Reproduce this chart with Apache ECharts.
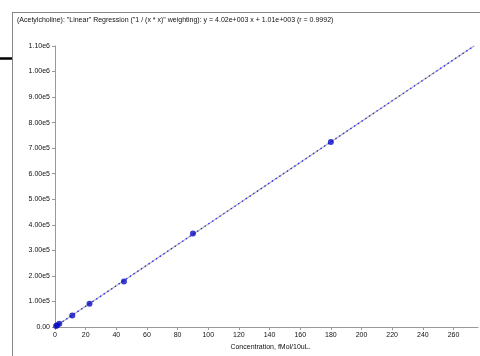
<!DOCTYPE html>
<html><head><meta charset="utf-8">
<script src="https://cdn.jsdelivr.net/npm/echarts@6/dist/echarts.min.js"></script>
<style>html,body{margin:0;padding:0;background:#fff}#c{width:480px;height:356px}</style>
</head><body><div id="c"></div>
<script>
const titleText = '(Acetylcholine): "Linear" Regression ("1 / (x * x)" weighting): y = 4.02e+003 x + 1.01e+003 (r = 0.9992)';
const xAxisName = 'Concentration, fMol/10uL.';
const concentrations = [0.7, 1.4, 2.8, 11.25, 22.5, 45, 90, 180];
const responses = [3800, 6600, 12400, 45500, 91000, 178000, 366000, 724000];
const fitX = [0, 273.4];
const fitY = [1010, 1100000];
const yTickLabels = ['0.00','1.00e5','2.00e5','3.00e5','4.00e5','5.00e5','6.00e5','7.00e5','8.00e5','9.00e5','1.00e6','1.10e6'];

const chart = echarts.init(document.getElementById('c'), null, {renderer:'canvas'});
const fitData = fitX.map((x,i)=>[x, fitY[i]]);
chart.setOption({
  animation:false,
  backgroundColor:'#fff',
  textStyle:{fontFamily:'Liberation Sans, Arial, sans-serif'},
  graphic:[
    {type:'line', shape:{x1:12.5,y1:12,x2:12.5,y2:356}, style:{stroke:'#888',lineWidth:1}},
    {type:'line', shape:{x1:12,y1:12.5,x2:480,y2:12.5}, style:{stroke:'#888',lineWidth:1}},
    {type:'line', shape:{x1:0,y1:58.5,x2:12,y2:58.5}, style:{stroke:'#000',lineWidth:2.5}},
    {type:'text', left:17, top:17, style:{text:titleText, fill:'#111', font:'7px "Liberation Sans", Arial, sans-serif'}}
  ],
  grid:{left:55, right:2, top:46, bottom:21, containLabel:false},
  xAxis:{type:'value', min:0, max:276, interval:20,
    name:xAxisName, nameLocation:'middle', nameGap:17,
    nameTextStyle:{fontSize:7, color:'#111', padding:[0,0,0,8]},
    axisLine:{lineStyle:{color:'#999',width:1}},
    axisTick:{length:3, lineStyle:{color:'#999'}},
    axisLabel:{fontSize:7, color:'#111', margin:5, showMaxLabel:false},
    splitLine:{show:false}},
  yAxis:{type:'value', min:0, max:1100000, interval:100000,
    axisLine:{show:true, lineStyle:{color:'#999',width:1}},
    axisTick:{show:true, length:3, lineStyle:{color:'#999'}},
    axisLabel:{fontSize:7, color:'#111', margin:5,
      formatter:(v)=>yTickLabels[Math.round(v/100000)]},
    splitLine:{show:false}},
  series:[
    {type:'line', data:fitData, symbol:'none', lineStyle:{color:'#b8b8b8', width:1.2}, z:2},
    {type:'line', data:fitData, symbol:'none', lineStyle:{color:'#2a2aff', width:1.3, type:[1.5,3]}, z:3},
    {type:'scatter', data:concentrations.map((x,i)=>[x,responses[i]]), symbol:'circle', symbolSize:6,
      itemStyle:{color:'#0c0cc0'}, z:4}
  ]
});
</script></body></html>
